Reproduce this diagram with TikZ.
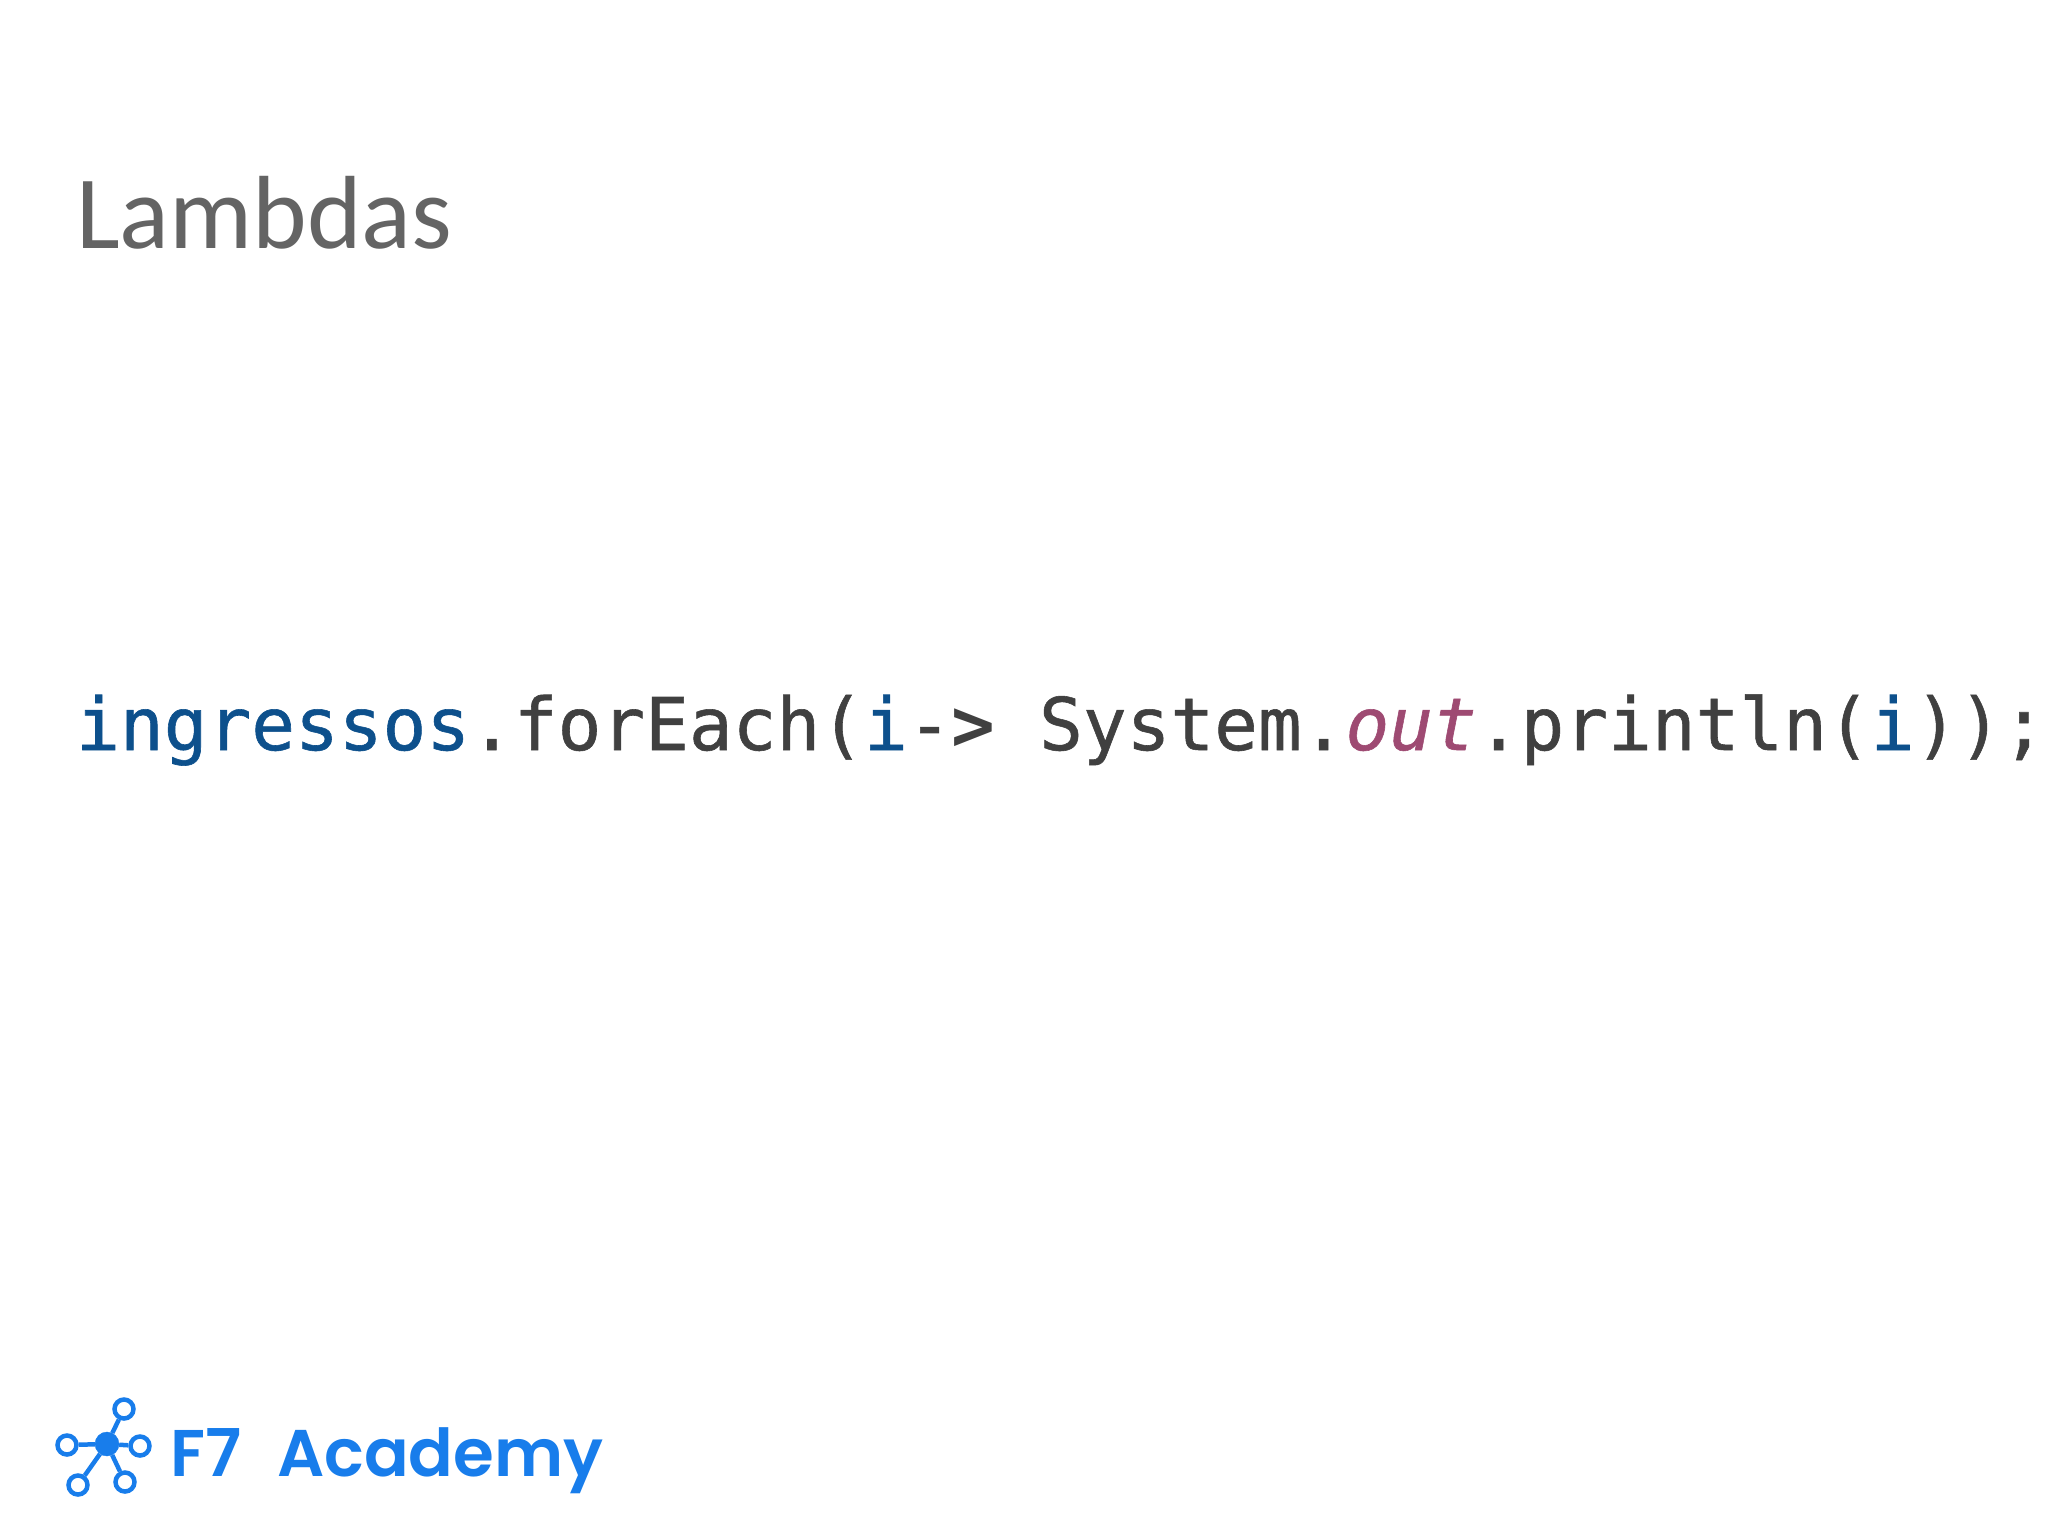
\documentclass[tikz,border=0pt]{standalone}
\usepackage{fontspec}
\setmainfont{Carlito}
\newfontfamily\codefont[FakeBold=0.8]{DejaVu Sans Mono}
\newfontfamily\arrowfont{DejaVu Sans Mono Bold}
\newfontfamily\brandfont{Poppins SemiBold}
\usepackage{tikz}
\definecolor{titlegray}{RGB}{100,100,100}
\definecolor{codegray}{RGB}{64,64,64}
\definecolor{codeblue}{RGB}{13,80,140}
\definecolor{codepink}{RGB}{158,74,114}
\definecolor{logoblue}{RGB}{24,125,235}
\tikzset{
  hub/.style={circle, draw=logoblue, fill=logoblue, inner sep=0pt, minimum size=24},
  leaf/.style={circle, draw=logoblue, line width=4.5, fill=white, inner sep=0pt, minimum size=19},
  spoke/.style={draw=logoblue, line width=4.5},
}
\begin{document}
\begin{tikzpicture}[x=1pt,y=-1pt]
\useasboundingbox (0,0) rectangle (2048,1536);
\node[anchor=base west, inner sep=0pt, text=titlegray, font=\fontsize{104}{104}\selectfont] (title) at (76,248) {Lambdas};
\node[anchor=base west, inner sep=0pt, font=\codefont\fontsize{72.7}{72.7}\selectfont] (code) at (76,750) {\color{codeblue}ingressos\color{codegray}.forEach(\color{codeblue}i\color{codegray}-{\arrowfont>} System.\color{codepink}\itshape out\upshape\color{codegray}.println(\color{codeblue}i\color{codegray}));};
% logo
\node[hub] (hub) at (107,1444) {};
\node[leaf] (n1) at (124,1409) {};
\node[leaf] (n2) at (140,1446) {};
\node[leaf] (n3) at (125,1482) {};
\node[leaf] (n4) at (78,1485) {};
\node[leaf] (n5) at (67,1445) {};
\foreach \n in {n1,n2,n3,n4,n5} \draw[spoke] (hub) -- (\n);
\node[anchor=base west, inner sep=0pt, text=logoblue, font=\brandfont\fontsize{66}{66}\selectfont] (brand) at (170,1476) {F7\hspace{20pt} Academy};
\end{tikzpicture}
\end{document}
